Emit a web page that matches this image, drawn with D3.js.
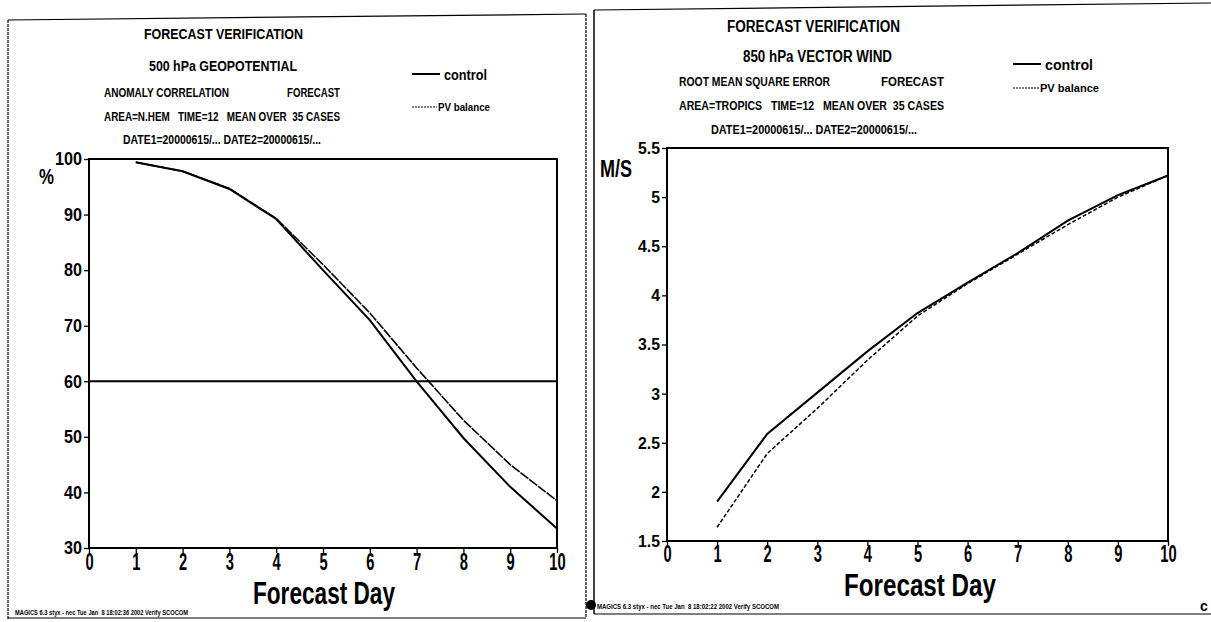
<!DOCTYPE html>
<html><head><meta charset="utf-8">
<script src="https://cdn.jsdelivr.net/npm/d3@7"></script>
<style>
html,body{margin:0;padding:0;background:#fff;}
svg{display:block;}
text{font-family:"Liberation Sans",Arial,Helvetica,sans-serif;font-weight:bold;fill:#000;white-space:pre;}
</style></head>
<body>
<svg id="chart" width="1211" height="622"></svg>
<script>
// ---------- data ----------
const days = [1, 2, 3, 4, 5, 6, 7, 8, 9, 10];
const xTickValues = [0, 1, 2, 3, 4, 5, 6, 7, 8, 9, 10];

// Left panel: 500 hPa geopotential anomaly correlation (%)
const acTicks = [30, 40, 50, 60, 70, 80, 90, 100];
const acControl = [99.4, 97.8, 94.6, 89.2, 80.0, 71.0, 60.0, 49.8, 41.0, 33.5];
const acPV      = [99.4, 97.8, 94.7, 89.3, 81.0, 72.3, 62.4, 53.0, 45.0, 38.5];
const acReference = 60;

// Right panel: 850 hPa vector wind RMS error (m/s)
const rmsTicks = [1.5, 2, 2.5, 3, 3.5, 4, 4.5, 5, 5.5];
const rmsControl = [1.90, 2.59, 3.01, 3.43, 3.82, 4.13, 4.43, 4.76, 5.02, 5.22];
const rmsPV      = [1.64, 2.39, 2.85, 3.34, 3.79, 4.12, 4.42, 4.72, 5.00, 5.22];

const seriesNames = ["control", "PV balance"];

const leftTitles = ["FORECAST VERIFICATION", "500 hPa GEOPOTENTIAL", "ANOMALY CORRELATION", "FORECAST",
  "AREA=N.HEM   TIME=12   MEAN OVER  35 CASES", "DATE1=20000615/... DATE2=20000615/..."];
const rightTitles = ["FORECAST VERIFICATION", "850 hPa VECTOR WIND", "ROOT MEAN SQUARE ERROR", "FORECAST",
  "AREA=TROPICS   TIME=12   MEAN OVER  35 CASES", "DATE1=20000615/... DATE2=20000615/..."];
const footers = ["MAGICS 6.3 styx - nec Tue Jan  8 18:02:36 2002 Verify SCOCOM",
                 "MAGICS 6.3 styx - nec Tue Jan  8 18:02:22 2002 Verify SCOCOM"];

// ---------- drawing ----------
const svg = d3.select("#chart");
svg.append("rect").attr("width",1211).attr("height",622).attr("fill","#fff");

function txt(g, x, y, s, size, anchor, width) {
  const t = g.append("text").attr("x", x).attr("y", y).attr("font-size", size)
    .attr("text-anchor", anchor || "start").attr("xml:space", "preserve").text(s);
  if (width) t.attr("textLength", width).attr("lengthAdjust", "spacingAndGlyphs");
  return t;
}
function line(g, x1, y1, x2, y2, w, dash) {
  const l = g.append("line").attr("x1",x1).attr("y1",y1).attr("x2",x2).attr("y2",y2)
    .attr("stroke","#000").attr("stroke-width",w);
  if (dash) l.attr("stroke-dasharray", dash);
  return l;
}

// panel frames
line(svg, 8, 20, 8, 619, 1.2, "3,1");
line(svg, 8, 20, 586, 14, 1.2);
line(svg, 8, 618, 586, 618, 1.2);
line(svg, 586, 14, 586, 618, 1.2, "3,1");
line(svg, 594, 10, 594, 614, 1.5);
line(svg, 594, 10, 1211, 3, 1.2);
line(svg, 594, 614, 1211, 614, 1.2);

function panel(cfg) {
  const g = svg.append("g");
  const x = d3.scaleLinear().domain([0, 10]).range([cfg.x0, cfg.x1]);
  const y = d3.scaleLinear().domain([cfg.yTicks[0], cfg.yTicks[cfg.yTicks.length-1]]).range([cfg.y0, cfg.y1]);

  // titles
  const T = cfg.titles, P = cfg.tpos;
  T.forEach((s, i) => txt(g, P[i][0], P[i][1], s, P[i][2], "start", P[i][3]));

  // legend
  const L = cfg.legend;
  line(g, L.lx0, L.y1, L.lx1, L.y1, 2);
  txt(g, L.tx1, L.y1 + 6, seriesNames[0], 15, "start", L.w1);
  line(g, L.lx0, L.y2, L.lx2, L.y2, 1.1, "2,1");
  txt(g, L.tx2, L.y2 + 4, seriesNames[1], 11, "start", L.w2);

  // y axis
  const ya = g.append("g").attr("transform", `translate(${cfg.x0},0)`)
    .call(d3.axisLeft(y).tickValues(cfg.yTicks).tickSize(5).tickPadding(2).tickFormat(d3.format("")));
  ya.select(".domain").remove();
  ya.selectAll(".tick line").attr("stroke","#000").attr("stroke-width",1.3);
  ya.selectAll(".tick text").attr("x", 0).attr("font-size", cfg.ySize)
    .attr("font-family", null).attr("transform", `translate(-7,0) scale(${cfg.ySx},1)`);

  // x axis
  const xa = g.append("g").attr("transform", `translate(0,${cfg.y0})`)
    .call(d3.axisBottom(x).tickValues(xTickValues).tickSize(5).tickPadding(cfg.xPad).tickFormat(d3.format("d")));
  xa.select(".domain").remove();
  xa.selectAll(".tick line").attr("stroke","#000").attr("stroke-width",1.3);
  xa.selectAll(".tick text").attr("font-size", 23).attr("font-family", null)
    .attr("transform", "scale(0.64,1)");

  // frame
  g.append("rect").attr("x", cfg.x0).attr("y", cfg.y1)
    .attr("width", cfg.x1 - cfg.x0).attr("height", cfg.y0 - cfg.y1)
    .attr("fill","none").attr("stroke","#000").attr("stroke-width",2);

  // reference line
  if (cfg.ref != null) {
    g.append("line").attr("x1", x(0)).attr("x2", x(10)).attr("y1", y(cfg.ref)).attr("y2", y(cfg.ref))
      .attr("stroke","#000").attr("stroke-width",2);
  }

  const gen = d3.line().x((d,i) => x(days[i])).y(d => y(d));
  g.append("path").datum(cfg.s2).attr("d", gen).attr("fill","none")
    .attr("stroke","#000").attr("stroke-width", cfg.w2).attr("stroke-dasharray", cfg.dash2);
  g.append("path").datum(cfg.s1).attr("d", gen).attr("fill","none")
    .attr("stroke","#000").attr("stroke-width",2);

  // axis titles
  txt(g, cfg.xtX, cfg.xtY, "Forecast Day", cfg.xtSize, "start", cfg.xtW);
  txt(g, cfg.unitX, cfg.unitY, cfg.unit, cfg.unitSize, "start", cfg.unitW);
  return g;
}

panel({
  x0: 89, x1: 557, y0: 548, y1: 159, yTicks: acTicks, ySize: 18, ySx: 0.9, xPad: 1,
  titles: leftTitles,
  tpos: [[144,39,15,159],[149,71,15,148],[104,97,13,125],[287,97,13,53],[104,121,13,236],[123,144,13,198]],
  legend: {lx0: 412, lx1: 440, lx2: 437, y1: 74, y2: 107, tx1: 444, tx2: 438, w1: 43, w2: 52},
  ref: acReference, s1: acControl, s2: acPV, w2: 1.6, dash2: "10,1",
  xtX: 253, xtY: 604, xtSize: 31, xtW: 142,
  unit: "%", unitX: 39, unitY: 184, unitSize: 22, unitW: 15
});

panel({
  x0: 667, x1: 1168, y0: 541, y1: 148, yTicks: rmsTicks, ySize: 17, ySx: 0.93, xPad: 0,
  titles: rightTitles,
  tpos: [[727,32,16,173],[743,62,16,149],[679,86,13,151],[881,86,13,63],[679,110,13,265],[711,134,13,206]],
  legend: {lx0: 1013, lx1: 1041, lx2: 1039, y1: 64, y2: 88, tx1: 1045, tx2: 1040, w1: 48, w2: 59},
  ref: null, s1: rmsControl, s2: rmsPV, w2: 1.5, dash2: "4,2",
  xtX: 844, xtY: 596, xtSize: 32, xtW: 152,
  unit: "M/S", unitX: 600, unitY: 177, unitSize: 23, unitW: 32
});

// footers
txt(svg, 15, 615, footers[0], 7, "start", 173);
svg.append("circle").attr("cx", 591).attr("cy", 605).attr("r", 5).attr("fill", "#000");
txt(svg, 597, 609, footers[1], 7, "start", 182);
txt(svg, 1200, 611, "c", 14, "start");
</script>
</body></html>
